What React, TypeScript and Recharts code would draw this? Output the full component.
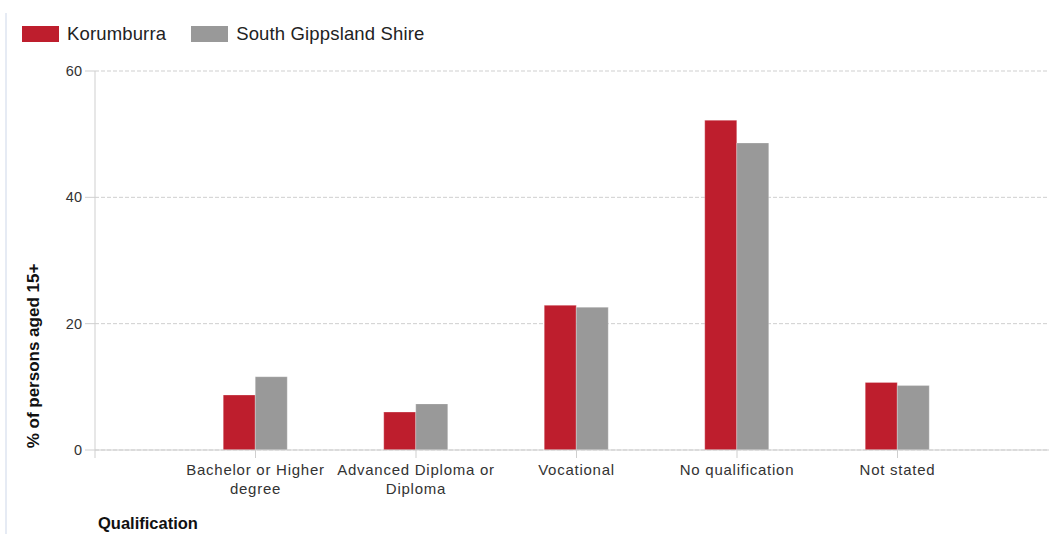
import React from "react";
import { BarChart, Bar, XAxis, YAxis, CartesianGrid } from "recharts";

const categoryLines: string[][] = [
  ["Bachelor or Higher", "degree"],
  ["Advanced Diploma or", "Diploma"],
  ["Vocational"],
  ["No qualification"],
  ["Not stated"],
];
const korumburra = [8.7, 6.0, 22.9, 52.2, 10.7];
const southGippsland = [11.6, 7.3, 22.6, 48.6, 10.2];
const yTicks = [0, 20, 40, 60];
const seriesNames = ["Korumburra", "South Gippsland Shire"];
const seriesColors = ["#BE1E2D", "#999999"];

const data = categoryLines.map((lines, i) => ({
  pos: i + 1,
  label: lines,
  k: korumburra[i],
  s: southGippsland[i],
}));

const FONT = "'Liberation Sans', Arial, sans-serif";

const XTick = (props: any) => {
  const { x, y, payload } = props;
  const idx = Math.round(payload.value) - 1;
  const lines = categoryLines[idx] || [];
  return (
    <text
      x={x}
      y={y}
      textAnchor="middle"
      fill="#333"
      fontSize={15}
      fontFamily={FONT}
      style={{ letterSpacing: "0.75px" }}
    >
      {lines.map((l, i) => (
        <tspan key={i} x={x} dy={i === 0 ? 15 : 19}>
          {l}
        </tspan>
      ))}
    </text>
  );
};

export default function App() {
  return (
    <div
      style={{
        position: "absolute",
        left: 0,
        top: 0,
        width: 1049,
        height: 534,
        overflow: "hidden",
        background: "#fff",
        fontFamily: FONT,
      }}
    >
      <div
        style={{
          position: "absolute",
          left: 5,
          top: 13,
          width: 2,
          height: 530,
          background: "#e6ebf4",
        }}
      />
      <div
        style={{
          position: "absolute",
          left: 22,
          top: 25,
          display: "flex",
          alignItems: "center",
          fontSize: 18.5,
          color: "#222",
          whiteSpace: "nowrap",
          letterSpacing: "0.15px",
        }}
      >
        {seriesNames.map((n, i) => (
          <div
            key={n}
            style={{ display: "flex", alignItems: "center", marginRight: 25 }}
          >
            <div
              style={{
                width: 37,
                height: 16,
                background: seriesColors[i],
                marginRight: 8,
              }}
            />
            <span style={{ lineHeight: "18px" }}>{n}</span>
          </div>
        ))}
      </div>
      <div style={{ position: "absolute", left: 0, top: 0 }}>
        <BarChart
          width={1070}
          height={534}
          data={data}
          margin={{ top: 71, right: 12, bottom: 54, left: 0 }}
          barGap={0}
          barSize={32}
        >
          <CartesianGrid
            vertical={false}
            stroke="#cfcfcf"
            strokeDasharray="4 2"
          />
          <XAxis
            dataKey="pos"
            type="number"
            domain={[0, 6]}
            ticks={[0, 1, 2, 3, 4, 5]}
            interval={0}
            height={30}
            tick={<XTick />}
            tickSize={8}
            tickLine={{ stroke: "#cfcfcf" }}
            axisLine={{ stroke: "#cfcfcf" }}
            allowDecimals={false}
          />
          <YAxis
            width={95}
            domain={[0, 60]}
            ticks={yTicks}
            tickSize={10}
            tickMargin={3}
            tickLine={{ stroke: "#cfcfcf" }}
            axisLine={{ stroke: "#cfcfcf" }}
            tick={{ fill: "#333", fontSize: 14.5, fontFamily: FONT }}
          />
          <Bar
            dataKey="k"
            name={seriesNames[0]}
            fill={seriesColors[0]}
            stroke="rgba(255,255,255,0.25)"
            isAnimationActive={false}
          />
          <Bar
            dataKey="s"
            name={seriesNames[1]}
            fill={seriesColors[1]}
            stroke="rgba(255,255,255,0.25)"
            isAnimationActive={false}
          />
          <text
            x={33}
            y={356}
            transform="rotate(-90 33 356)"
            textAnchor="middle"
            dominantBaseline="central"
            fontSize={17}
            fontWeight="bold"
            fontFamily={FONT}
            fill="#111"
          >
            % of persons aged 15+
          </text>
          <text
            x={98}
            y={529}
            fontSize={16.5}
            fontWeight="bold"
            fontFamily={FONT}
            fill="#111"
          >
            Qualification
          </text>
        </BarChart>
      </div>
    </div>
  );
}
